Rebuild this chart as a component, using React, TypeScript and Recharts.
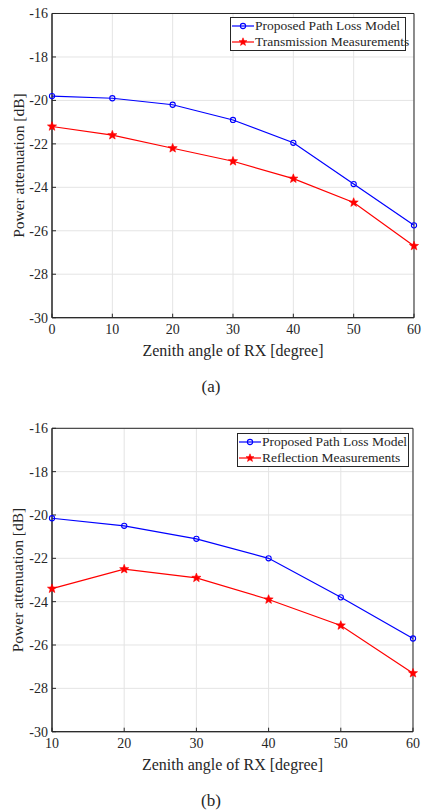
import { LineChart, Line, XAxis, YAxis, CartesianGrid, ReferenceArea } from 'recharts';

const FONT = '"Liberation Serif", serif';
const TEXT = '#262626';

const anglesA = [0, 10, 20, 30, 40, 50, 60];
const modelA = [-19.8, -19.9, -20.2, -20.9, -21.95, -23.85, -25.75];
const transmission = [-21.2, -21.6, -22.2, -22.8, -23.6, -24.7, -26.7];

const anglesB = [10, 20, 30, 40, 50, 60];
const modelB = [-20.15, -20.5, -21.1, -22.0, -23.8, -25.7];
const reflection = [-23.4, -22.5, -22.9, -23.9, -25.1, -27.3];

const yTicks = [-30, -28, -26, -24, -22, -20, -18, -16];
const xTicksA = [0, 10, 20, 30, 40, 50, 60];
const xTicksB = [10, 20, 30, 40, 50, 60];

const BLUE = '#0000ff';
const RED = '#ff0000';

function Star({ cx, cy, fill, size = 4.8 }: { cx?: number; cy?: number; fill: string; size?: number }) {
  if (cx == null || cy == null) return null;
  const pts: string[] = [];
  for (let i = 0; i < 10; i++) {
    const r = i % 2 === 0 ? size : size * 0.42;
    const a = -Math.PI / 2 + (i * Math.PI) / 5;
    pts.push(`${cx + r * Math.cos(a)},${cy + r * Math.sin(a)}`);
  }
  return <polygon points={pts.join(' ')} fill={fill} stroke={fill} strokeWidth={0.6} />;
}

const noLabel = () => null;

function LegendBox({ second, left, top, width }: { second: string; left: number; top: number; width: number }) {
  const row = (label: string, color: string, star: boolean) => (
    <div style={{ display: 'flex', alignItems: 'center', height: 16 }}>
      <svg width={22} height={10} style={{ marginRight: 1, flex: 'none' }}>
        <line x1={0} y1={5} x2={22} y2={5} stroke={color} strokeWidth={1.2} />
        {star ? (
          <Star cx={11} cy={5} fill={color} size={4.2} />
        ) : (
          <circle cx={11} cy={5} r={2.6} fill="none" stroke={color} strokeWidth={1.1} />
        )}
      </svg>
      <span>{label}</span>
    </div>
  );
  return (
    <div
      style={{
        position: 'absolute',
        left,
        top,
        width,
        boxSizing: 'border-box',
        background: '#fff',
        border: '1px solid #262626',
        padding: '0px 1px 0px 1px',
        fontFamily: FONT,
        fontSize: 13.5,
        color: TEXT,
        lineHeight: '16px',
        whiteSpace: 'nowrap',
      }}
    >
      {row('Proposed Path Loss Model', BLUE, false)}
      {row(second, RED, true)}
    </div>
  );
}

interface PanelProps {
  angles: number[];
  model: number[];
  meas: number[];
  measName: string;
  xTicks: number[];
  top: number;
  marginTop: number;
  marginRight: number;
  plotH: number;
  caption: string;
  legend: { left: number; top: number; width: number };
}

function Panel({ angles, model, meas, measName, xTicks, top, marginTop, marginRight, plotH, caption, legend }: PanelProps) {
  const data = angles.map((a, i) => ({ angle: a, model: model[i], meas: meas[i] }));
  const xMin = xTicks[0];
  const xMax = xTicks[xTicks.length - 1];
  const axisH = 50;
  const height = marginTop + plotH + axisH;
  const tickStyle = { fontSize: 14, fill: TEXT, fontFamily: FONT };
  return (
    <div style={{ position: 'absolute', left: 0, top, width: 422 }}>
      <LineChart width={422} height={height} data={data} margin={{ top: marginTop, right: marginRight, left: 0, bottom: 0 }}>
        <CartesianGrid stroke="#e4e4e4" strokeWidth={1} />
        <XAxis
          dataKey="angle"
          type="number"
          domain={[xMin, xMax]}
          ticks={xTicks}
          interval={0}
          height={axisH}
          tick={tickStyle}
          tickSize={-4}
          tickMargin={10}
          tickLine={{ stroke: TEXT }}
          axisLine={{ stroke: TEXT }}
          label={{ value: 'Zenith angle of RX [degree]', position: 'insideBottom', offset: 12, fontSize: 16, fill: TEXT, fontFamily: FONT }}
        />
        <XAxis
          xAxisId="top"
          orientation="top"
          dataKey="angle"
          type="number"
          domain={[xMin, xMax]}
          ticks={xTicks}
          interval={0}
          height={0}
          tick={noLabel}
          tickSize={-4}
          tickLine={{ stroke: TEXT }}
          axisLine={{ stroke: TEXT }}
        />
        <YAxis
          type="number"
          domain={[-30, -16]}
          ticks={yTicks}
          interval={0}
          width={52}
          tick={tickStyle}
          tickSize={-4}
          tickMargin={8}
          tickLine={{ stroke: TEXT }}
          axisLine={{ stroke: TEXT }}
          label={{ value: 'Power attenuation [dB]', angle: -90, position: 'insideLeft', offset: 18, style: { textAnchor: 'middle' }, fontSize: 15.5, fill: TEXT, fontFamily: FONT }}
        />
        <YAxis
          yAxisId="right"
          orientation="right"
          type="number"
          domain={[-30, -16]}
          ticks={yTicks}
          interval={0}
          width={0}
          tick={noLabel}
          tickSize={-4}
          tickLine={{ stroke: TEXT }}
          axisLine={{ stroke: TEXT }}
        />
        <ReferenceArea x1={xMin} x2={xMax} y1={-30} y2={-16} fill="none" stroke={TEXT} strokeWidth={1} ifOverflow="visible" />
        <Line
          dataKey="model"
          name="Proposed Path Loss Model"
          stroke={BLUE}
          strokeWidth={1.2}
          dot={{ r: 2.6, fill: 'none', stroke: BLUE, strokeWidth: 1.1 }}
          isAnimationActive={false}
        />
        <Line
          dataKey="meas"
          name={measName}
          stroke={RED}
          strokeWidth={1.2}
          dot={(p: any) => <Star key={`s-${p.index}`} cx={p.cx} cy={p.cy} fill={RED} />}
          isAnimationActive={false}
        />
      </LineChart>
      <LegendBox second={measName} left={legend.left} top={legend.top} width={legend.width} />
      <div
        style={{
          position: 'absolute',
          left: 0,
          width: 422,
          top: marginTop + plotH + 59,
          textAlign: 'center',
          fontFamily: FONT,
          fontSize: 17,
          lineHeight: '20px',
          color: TEXT,
        }}
      >
        {caption}
      </div>
    </div>
  );
}

export default function App() {
  return (
    <div style={{ position: 'absolute', left: 0, top: 0, width: 422, height: 811, background: '#fff' }}>
      <Panel
        angles={anglesA}
        model={modelA}
        meas={transmission}
        measName="Transmission Measurements"
        xTicks={xTicksA}
        top={0}
        marginTop={13.5}
        marginRight={8}
        plotH={304.2}
        caption="(a)"
        legend={{ left: 230, top: 17, width: 176 }}
      />
      <Panel
        angles={anglesB}
        model={modelB}
        meas={reflection}
        measName="Reflection Measurements"
        xTicks={xTicksB}
        top={410}
        marginTop={18.3}
        marginRight={9}
        plotH={303.4}
        caption="(b)"
        legend={{ left: 237, top: 22.7, width: 172 }}
      />
    </div>
  );
}
